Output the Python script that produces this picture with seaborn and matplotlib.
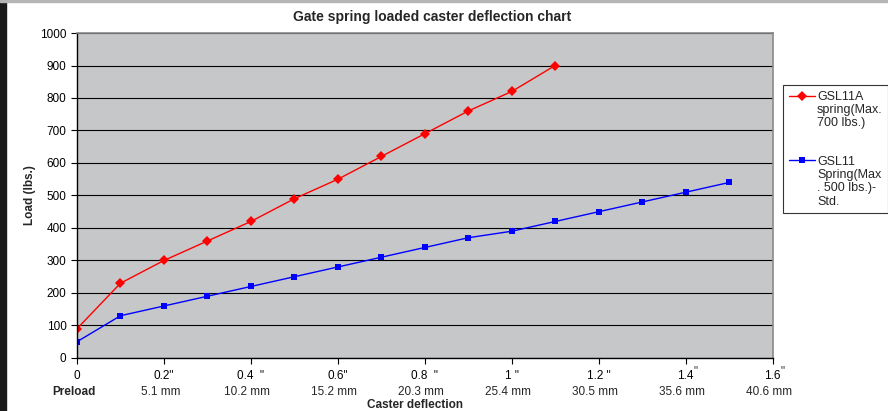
import numpy as np
import pandas as pd
import matplotlib
matplotlib.use("Agg")
import matplotlib.pyplot as plt
import seaborn as sns
from matplotlib.patches import Rectangle

# Data
deflection_a = [0, 0.1, 0.2, 0.3, 0.4, 0.5, 0.6, 0.7, 0.8, 0.9, 1.0, 1.1]
load_a = [90, 230, 300, 360, 420, 490, 550, 620, 690, 760, 820, 900]
deflection_b = [0, 0.1, 0.2, 0.3, 0.4, 0.5, 0.6, 0.7, 0.8, 0.9, 1.0, 1.1, 1.2, 1.3, 1.4, 1.5]
load_b = [50, 130, 160, 190, 220, 250, 280, 310, 340, 370, 390, 420, 450, 480, 510, 540]

name_a = "GSL11A\nspring(Max.\n700 lbs.)"
name_b = "GSL11\nSpring(Max\n. 500 lbs.)-\nStd."

inch_ticks = [0, 0.2, 0.4, 0.6, 0.8, 1.0, 1.2, 1.4, 1.6]
inch_labels = ["0", '0.2"', '0.4  "', '0.6"', '0.8  "', '1 "', '1.2 "', "1.4", "1.6"]
mm_labels = ["Preload", "5.1 mm", "10.2 mm", "15.2 mm", "20.3 mm",
             "25.4 mm", "30.5 mm", "35.6 mm", "40.6 mm"]

df = pd.concat([
    pd.DataFrame({"x": deflection_a, "y": load_a, "series": name_a}),
    pd.DataFrame({"x": deflection_b, "y": load_b, "series": name_b}),
])

sns.set_style("white")
plt.rcParams["font.family"] = ["Liberation Sans", "DejaVu Sans"]

fig = plt.figure(figsize=(8.88, 4.11), dpi=100)
ax = fig.add_axes([0.0867, 0.129, 0.7833, 0.7907])
ax.set_facecolor("#c6c7c9")

sns.lineplot(data=df, x="x", y="y", hue="series", style="series",
             palette={name_a: "#ff0000", name_b: "#0000ff"},
             markers={name_a: "D", name_b: "s"}, dashes=False,
             markersize=5, markeredgewidth=0, linewidth=1, ax=ax)

ax.set_xlim(0, 1.6)
ax.set_ylim(0, 1000)
ax.set_yticks(range(0, 1001, 100))
ax.grid(axis="y", color="black", linewidth=0.8)
ax.set_axisbelow(True)
ax.set_xticks(inch_ticks)
ax.set_xticklabels(inch_labels)
ax.tick_params(axis="both", direction="out", length=4, width=0.8, labelsize=8.5,
               bottom=True, left=True, colors="black")
ax.tick_params(axis="x", pad=5)
for s in ["left", "bottom"]:
    ax.spines[s].set_color("black")
    ax.spines[s].set_linewidth(1)
for s in ["top", "right"]:
    ax.spines[s].set_color("#8a8a8a")
    ax.spines[s].set_linewidth(1.2)

# raised inch marks for 1.4 and 1.6
trans = ax.get_xaxis_transform()
for xv in [1.4, 1.6]:
    ax.text(xv + 0.018, -0.022, '"', transform=trans, ha="left", va="top", fontsize=8.5)

# second row of tick labels (mm)
for xv, lab in zip(inch_ticks, mm_labels):
    ax.text(xv - 0.008, -0.085, lab, transform=trans, ha="center", va="top", fontsize=8.5,
            fontweight="bold" if lab == "Preload" else "normal")

ax.set_xlabel("")
ax.set_ylabel("Load (lbs.)", fontsize=8.5, fontweight="bold", labelpad=3)
fig.text(0.467, 0.0, "Caster deflection", ha="center", va="bottom",
         fontsize=8.5, fontweight="bold")
fig.text(0.487, 0.942, "Gate spring loaded caster deflection chart", ha="center",
         va="bottom", fontsize=10, fontweight="bold")

handles, labels = ax.get_legend_handles_labels()
ax.legend_.remove()
leg_fs = 9
leg_ls = 1.15
leg = fig.legend(handles, labels, loc="upper left", bbox_to_anchor=(0.882, 0.793),
                 fontsize=leg_fs, frameon=True, fancybox=False, edgecolor="black",
                 handlelength=2.1, handletextpad=0.15, labelspacing=2.1,
                 borderpad=0.45, borderaxespad=0)
leg.get_frame().set_linewidth(0.8)
for t in leg.get_texts():
    t.set_linespacing(leg_ls)
# put each legend key next to the first line of its label (units: points)
line_h = leg_fs * leg_ls
for h, lab in zip(leg.legend_handles, labels):
    h.set_markersize(5)
    shift = lab.count("\n") / 2 * line_h
    h.set_ydata(np.asarray(h.get_ydata()) + shift)

# page decorations
fig.patches.append(Rectangle((0, 0), 0.007, 1, transform=fig.transFigure,
                             color="#1a1a1a", zorder=0))
fig.patches.append(Rectangle((0, 0.994), 1, 0.006, transform=fig.transFigure,
                             color="#b5b5b5", zorder=0))

fig.savefig("out.png", dpi=100)
